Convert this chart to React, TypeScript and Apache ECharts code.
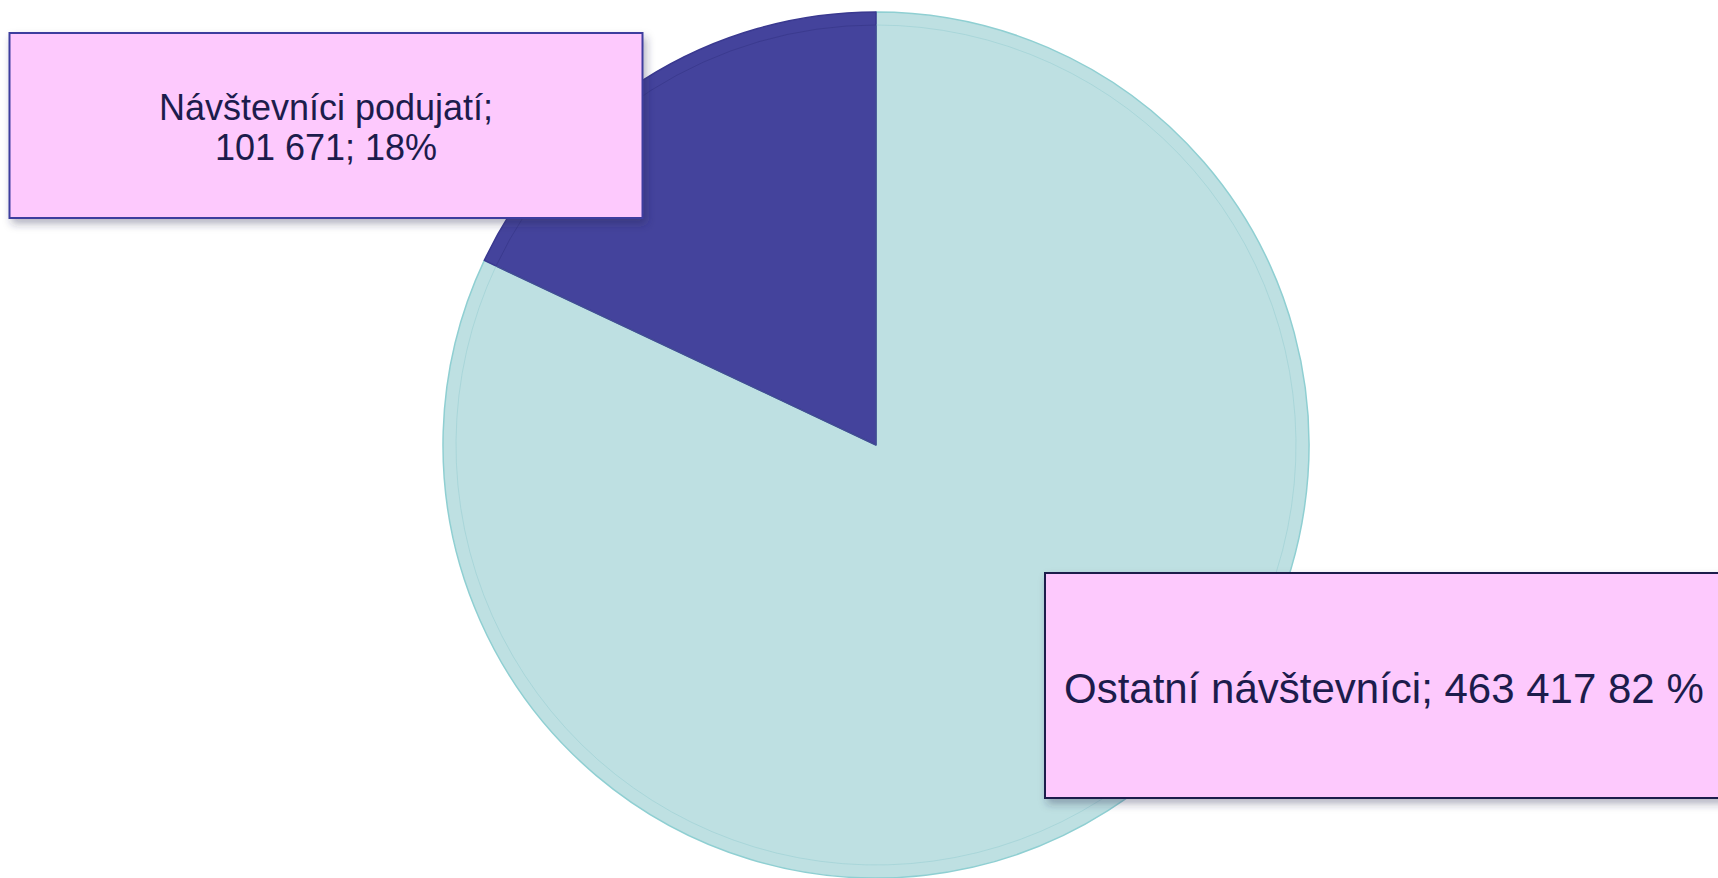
import React, { useEffect, useRef } from "react";
import * as echarts from "echarts";

const categories = ["Ostatní návštevníci", "Návštevníci podujatí"];
const values = [463417, 101671];
const sliceColors = ["#BEE0E2", "#44439C"];
const sliceBorders = ["#8FCFD2", "#3A3990"];

const fmt = (n: number) => String(n).replace(/\B(?=(\d{3})+(?!\d))/g, " ");

export default function App() {
  const ref = useRef<HTMLDivElement>(null);
  useEffect(() => {
    if (!ref.current) return;
    const chart = echarts.init(ref.current, undefined, { renderer: "svg" });
    const cx = 876;
    const cy = 445;
    const R = 433;
    const labelData = categories.map((name, i) => ({
      name,
      value: values[i],
      itemStyle: {
        color: "transparent",
        borderColor: i === 0 ? "rgba(130,195,200,0.35)" : "rgba(50,50,130,0.5)",
        borderWidth: 1,
      },
      label:
        i === 0
          ? {
              formatter: (p: any) => `${p.name}; ${fmt(p.value)} ${Math.round(p.percent)} %`,
              fontSize: 42,
              lineHeight: 46,
              width: 700,
              padding: [91, 0, 86, 18],
              borderColor: "#1E1B4B",
              borderWidth: 2,
            }
          : {
              formatter: (p: any) => `${p.name};\n${fmt(p.value)}; ${Math.round(p.percent)}%`,
              fontSize: 36,
              lineHeight: 40,
              width: 631,
              padding: [53, 0, 50, 0],
              borderColor: "#3C3C9E",
              borderWidth: 2,
            },
    }));
    chart.setOption({
      animation: false,
      backgroundColor: "#ffffff",
      series: [
        {
          type: "pie",
          center: [cx, cy],
          radius: R,
          startAngle: 90,
          clockwise: true,
          silent: true,
          data: categories.map((name, i) => ({
            name,
            value: values[i],
            itemStyle: { color: sliceColors[i], borderColor: sliceBorders[i], borderWidth: 1.5 },
          })),
          label: { show: false },
          labelLine: { show: false },
          emphasis: { disabled: true },
          z: 1,
        },
        {
          type: "pie",
          center: [cx, cy],
          radius: R - 13,
          startAngle: 90,
          clockwise: true,
          avoidLabelOverlap: false,
          data: labelData,
          labelLine: { show: false },
          label: {
            show: true,
            position: "outside",
            color: "#1C1C4C",
            fontFamily: "Liberation Sans, Arial, sans-serif",
            backgroundColor: "#FDC9FD",
            shadowColor: "rgba(40,40,80,0.35)",
            shadowBlur: 8,
            shadowOffsetX: 3,
            shadowOffsetY: 5,
          },
          labelLayout: (params: any) =>
            params.dataIndex === 0
              ? { x: 1046, y: 574, align: "left", verticalAlign: "top" }
              : { x: 326, y: 34, align: "center", verticalAlign: "top" },
          emphasis: { disabled: true },
          z: 2,
        },
      ],
    });
    return () => chart.dispose();
  }, []);
  return (
    <div
      ref={ref}
      style={{ position: "fixed", left: 0, top: 0, width: 1718, height: 878 }}
    />
  );
}
